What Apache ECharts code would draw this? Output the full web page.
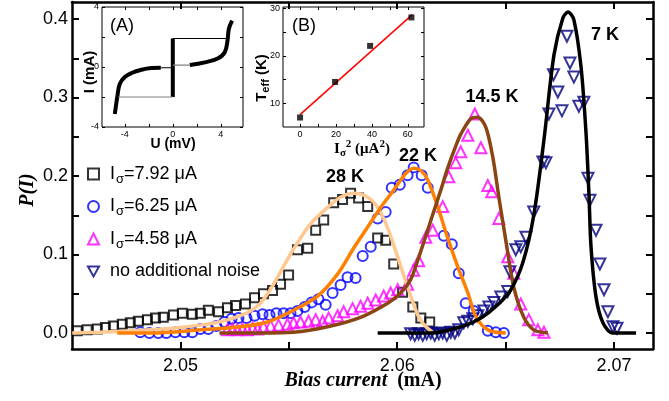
<!DOCTYPE html>
<html>
<head>
<meta charset="utf-8">
<script src="https://cdn.jsdelivr.net/npm/echarts@6/dist/echarts.min.js"></script>
<style>
  html, body { margin: 0; padding: 0; background: #fff; }
  #chart { width: 669px; height: 401px; }
</style>
</head>
<body>
<div id="chart"></div>
<script>
// ---- main panel: switching histograms P(I) ----
const sqX = [2.04524, 2.04570, 2.04617, 2.04654, 2.04691, 2.04732, 2.04769, 2.04806, 2.04848, 2.04885, 2.04921, 2.04968, 2.05009, 2.05055, 2.05092, 2.05129, 2.05176, 2.05217, 2.05254, 2.05300, 2.05342, 2.05383, 2.05425, 2.05462, 2.05499, 2.05540, 2.05587, 2.05624, 2.05661, 2.05707, 2.05748, 2.05785, 2.05822, 2.05864, 2.05910, 2.05947, 2.05984, 2.06025, 2.06072, 2.06109, 2.06150];
const sqY = [0.003, 0.004, 0.005, 0.007, 0.009, 0.011, 0.013, 0.015, 0.017, 0.019, 0.020, 0.023, 0.025, 0.024, 0.025, 0.029, 0.027, 0.032, 0.035, 0.037, 0.045, 0.050, 0.054, 0.062, 0.074, 0.106, 0.108, 0.131, 0.144, 0.166, 0.170, 0.178, 0.172, 0.161, 0.121, 0.118, 0.088, 0.052, 0.033, 0.019, 0.014];

const ciX = [2.04815, 2.04857, 2.04898, 2.04935, 2.04977, 2.05018, 2.05055, 2.05092, 2.05129, 2.05166, 2.05203, 2.05236, 2.05268, 2.05305, 2.05342, 2.05379, 2.05411, 2.05443, 2.05476, 2.05508, 2.05540, 2.05573, 2.05605, 2.05637, 2.05670, 2.05702, 2.05739, 2.05771, 2.05808, 2.05841, 2.05878, 2.05910, 2.05947, 2.05975, 2.06012, 2.06048, 2.06076, 2.06113, 2.06141, 2.06215, 2.06252, 2.06284, 2.06316, 2.06353, 2.06418, 2.06455, 2.06492];
const ciY = [0.001, 0.000, 0.000, 0.000, 0.001, 0.001, 0.001, 0.005, 0.005, 0.009, 0.014, 0.018, 0.019, 0.019, 0.022, 0.024, 0.023, 0.025, 0.025, 0.025, 0.028, 0.033, 0.039, 0.043, 0.036, 0.051, 0.061, 0.071, 0.070, 0.098, 0.110, 0.146, 0.154, 0.185, 0.189, 0.201, 0.211, 0.201, 0.185, 0.124, 0.113, 0.076, 0.038, 0.028, 0.003, 0.001, 0.000];

const trX = [2.05217, 2.05240, 2.05263, 2.05286, 2.05309, 2.05333, 2.05356, 2.05383, 2.05416, 2.05453, 2.05494, 2.05522, 2.05554, 2.05591, 2.05624, 2.05656, 2.05684, 2.05725, 2.05753, 2.05794, 2.05831, 2.05864, 2.05901, 2.05938, 2.05970, 2.06002, 2.06048, 2.06076, 2.06099, 2.06132, 2.06164, 2.06210, 2.06238, 2.06270, 2.06293, 2.06326, 2.06358, 2.06386, 2.06418, 2.06436, 2.06469, 2.06510, 2.06538, 2.06570, 2.06607, 2.06649, 2.06677];
const trY = [0.004, 0.005, 0.004, 0.005, 0.004, 0.006, 0.005, 0.008, 0.009, 0.010, 0.011, 0.013, 0.014, 0.015, 0.017, 0.015, 0.019, 0.022, 0.027, 0.031, 0.034, 0.038, 0.042, 0.047, 0.051, 0.055, 0.062, 0.080, 0.092, 0.122, 0.131, 0.161, 0.199, 0.217, 0.231, 0.252, 0.279, 0.236, 0.188, 0.180, 0.146, 0.097, 0.076, 0.037, 0.017, 0.004, 0.001];

const dtX = [2.06062, 2.06081, 2.06099, 2.06118, 2.06136, 2.06155, 2.06173, 2.06192, 2.06210, 2.06229, 2.06247, 2.06266, 2.06284, 2.06307, 2.06326, 2.06349, 2.06372, 2.06400, 2.06423, 2.06446, 2.06478, 2.06510, 2.06520, 2.06547, 2.06570, 2.06594, 2.06630, 2.06672, 2.06686, 2.06700, 2.06721, 2.06741, 2.06760, 2.06783, 2.06797, 2.06815, 2.06838, 2.06861, 2.06880, 2.06889, 2.06917, 2.06935, 2.06954, 2.06972, 2.06995, 2.07014];
const dtY = [-0.001, -0.003, -0.001, -0.003, -0.001, 0.000, -0.003, -0.001, 0.000, -0.003, 0.001, 0.000, 0.004, 0.013, 0.015, 0.018, 0.022, 0.028, 0.033, 0.039, 0.046, 0.053, 0.078, 0.106, 0.110, 0.122, 0.154, 0.218, 0.217, 0.279, 0.329, 0.307, 0.283, 0.378, 0.344, 0.326, 0.289, 0.294, 0.197, 0.169, 0.131, 0.088, 0.055, 0.027, 0.008, 0.006];

// fitted curves
const fit28X = [2.04501, 2.04630, 2.04783, 2.04963, 2.05092, 2.05194, 2.05277, 2.05323, 2.05370, 2.05416, 2.05462, 2.05522, 2.05600, 2.05679, 2.05739, 2.05799, 2.05864, 2.05910, 2.05956, 2.06002, 2.06048, 2.06095, 2.06132, 2.06164];
const fit28Y = [0.000, 0.001, 0.003, 0.006, 0.010, 0.015, 0.022, 0.028, 0.038, 0.056, 0.078, 0.107, 0.139, 0.160, 0.173, 0.178, 0.173, 0.160, 0.134, 0.097, 0.059, 0.023, 0.008, 0.001];
const fit22X = [2.04709, 2.04861, 2.05092, 2.05277, 2.05402, 2.05522, 2.05633, 2.05725, 2.05799, 2.05864, 2.05924, 2.05984, 2.06039, 2.06076, 2.06109, 2.06141, 2.06187, 2.06233, 2.06280, 2.06326, 2.06363, 2.06418, 2.06501];
const fit22Y = [0.000, 0.000, 0.004, 0.008, 0.014, 0.029, 0.047, 0.075, 0.108, 0.135, 0.160, 0.182, 0.203, 0.210, 0.207, 0.195, 0.161, 0.121, 0.084, 0.051, 0.021, 0.004, 0.000];
const fit14X = [2.05180, 2.05370, 2.05522, 2.05679, 2.05831, 2.05956, 2.06016, 2.06062, 2.06099, 2.06136, 2.06169, 2.06201, 2.06233, 2.06270, 2.06293, 2.06339, 2.06372, 2.06409, 2.06441, 2.06469, 2.06501, 2.06538, 2.06584, 2.06630, 2.06695];
const fit14Y = [0.000, 0.000, 0.001, 0.008, 0.020, 0.038, 0.051, 0.068, 0.096, 0.127, 0.155, 0.182, 0.210, 0.238, 0.253, 0.273, 0.275, 0.262, 0.224, 0.173, 0.118, 0.058, 0.020, 0.004, 0.000];
const fit7X = [2.05910, 2.06155, 2.06307, 2.06386, 2.06464, 2.06524, 2.06580, 2.06630, 2.06677, 2.06723, 2.06764, 2.06788, 2.06815, 2.06848, 2.06871, 2.06885, 2.06894, 2.06917, 2.06949, 2.06995, 2.07102];
const fit7Y = [0.000, 0.000, 0.009, 0.019, 0.036, 0.055, 0.090, 0.150, 0.246, 0.354, 0.401, 0.409, 0.399, 0.339, 0.255, 0.174, 0.110, 0.046, 0.013, 0.000, 0.000];

const legendNames = ['I_s=7.92 uA', 'I_s=6.25 uA', 'I_s=4.58 uA', 'no additional noise'];
const legendText = ['{n|I}{s|σ}{n|=7.92 μA}', '{n|I}{s|σ}{n|=6.25 μA}', '{n|I}{s|σ}{n|=4.58 μA}', '{n|no additional noise}'];

const xLabels = [2.05, 2.06, 2.07];
const xTicks = [2.05, 2.055, 2.06, 2.065, 2.07];
const yLabels = [0.0, 0.1, 0.2, 0.3, 0.4];
const yTicks = [0.0, 0.05, 0.1, 0.15, 0.2, 0.25, 0.3, 0.35, 0.4];

// ---- inset A: I-U curve ----
const ivNegU = [-4.83, -4.61, -4.42, -4.0, -3.44, -2.61, -1.78, -1.0];
const ivNegI = [-3.13, -1.91, -1.13, -0.67, -0.40, -0.18, -0.07, -0.05];
const ivPosU = [1.42, 2.67, 3.78, 4.33, 4.56, 4.67, 4.94];
const ivPosI = [0.13, 0.31, 0.58, 0.98, 1.76, 2.53, 3.09];
const superU = [0, 0];
const superI = [-2.0, 1.9];
const jumpUpU = [0, 4.56];
const jumpUpI = [1.9, 1.9];
const jumpDownU = [0, -4.55];
const jumpDownI = [-2.0, -2.0];
const linkNegU = [-1.0, 0];
const linkNegI = [-0.05, -0.05];
const linkPosU = [0, 1.42];
const linkPosI = [0.13, 0.13];
const aTicks = [-4, -2, 0, 2, 4];
const aLabels = [-4, 0, 4];

// ---- inset B: T_eff vs I_sigma^2 ----
const isq = [0, 19.5, 39, 62];
const teff = [7.0, 14.5, 22.1, 28.1];
const lineX = [0, 62.5];
const lineY = [7.6, 28.7];
const bxTicks = [0, 10, 20, 30, 40, 50, 60];
const bxLabels = [0, 20, 40, 60];
const byTicks = [10, 15, 20, 25, 30];
const byLabels = [10, 20, 30];

const zip = (xs, ys) => xs.map((x, i) => [x, ys[i]]);
const SANS = 'Liberation Sans';
const SERIF = 'Liberation Serif';
const DOWN_TRI = 'path://M0,0 L10,0 L5,9 Z';

function axisPair(dir, grid, min, max, ticks, labels, o) {
  const base = {
    type: 'value', gridIndex: grid, min: min, max: max, scale: true,
    splitLine: { show: false },
    axisLine: { show: !!o.line, onZero: false, lineStyle: { color: '#000', width: o.line || 1 } },
    axisTick: { show: true, inside: true, length: o.tick, customValues: ticks, lineStyle: { color: '#000', width: o.tickW } }
  };
  const first = Object.assign({}, base, {
    position: dir === 'x' ? 'bottom' : 'left',
    axisLabel: { show: true, customValues: labels, color: '#000', fontFamily: SANS, fontSize: o.font, margin: o.margin, formatter: o.fmt }
  });
  const second = Object.assign({}, base, {
    position: dir === 'x' ? 'top' : 'right',
    axisLabel: { show: false }
  });
  return [first, second];
}

const mainX = axisPair('x', 0, 2.045, 2.0718, xTicks, xLabels, { line: 2.5, tick: 7, tickW: 2, font: 18, margin: 8, fmt: v => v.toFixed(2) });
const mainY = axisPair('y', 0, -0.0204, 0.4217, yTicks, yLabels, { line: 2.5, tick: 7, tickW: 2, font: 18, margin: 4, fmt: v => v.toFixed(1) });
const insAX = axisPair('x', 1, -5.9, 5.85, aTicks, aLabels, { line: 0, tick: 3, tickW: 1, font: 9, margin: 3, fmt: v => String(v) });
const insAY = axisPair('y', 1, -4, 4, aTicks, aLabels, { line: 0, tick: 3, tickW: 1, font: 9, margin: 3, fmt: v => String(v) });
const insBX = axisPair('x', 2, -9.5, 69, bxTicks, bxLabels, { line: 0, tick: 3, tickW: 1, font: 9, margin: 3, fmt: v => String(v) });
const insBY = axisPair('y', 2, 5, 30.3, byTicks, byLabels, { line: 0, tick: 3, tickW: 1, font: 9, margin: 3, fmt: v => String(v) });

function scatter(name, xs, ys, symbol, size, color) {
  return {
    type: 'scatter', name: name, xAxisIndex: 0, yAxisIndex: 0, z: 2,
    data: zip(xs, ys), symbol: symbol, symbolSize: size,
    itemStyle: { color: 'rgba(255,255,255,0)', borderColor: color, borderWidth: 2 }
  };
}
function curve(xs, ys, color, width, xi, yi, smooth) {
  return {
    type: 'line', xAxisIndex: xi, yAxisIndex: yi, z: xi === 0 ? 3 : 10, data: zip(xs, ys),
    showSymbol: false, smooth: smooth, silent: true,
    lineStyle: { color: color, width: width }
  };
}

const chart = echarts.init(document.getElementById('chart'), null, { renderer: 'canvas' });
chart.setOption({
  animation: false,
  backgroundColor: '#fff',
  grid: [
    { left: 72, right: 16, top: 2, bottom: 52 },
    { left: 102, top: 7, width: 141, height: 120, show: true, backgroundColor: '#fff', borderColor: '#000', borderWidth: 1 },
    { left: 283, top: 7, width: 141, height: 120, show: true, backgroundColor: '#fff', borderColor: '#000', borderWidth: 1 }
  ],
  xAxis: [].concat(mainX, insAX, insBX),
  yAxis: [].concat(mainY, insAY, insBY),
  legend: {
    data: legendNames, orient: 'vertical', left: 82, top: 160,
    itemWidth: 11, itemHeight: 11, itemGap: 12, selectedMode: false,
    itemStyle: { borderWidth: 2 },
    formatter: name => legendText[legendNames.indexOf(name)],
    textStyle: {
      padding: [0, 0, 0, 6],
      rich: {
        n: { fontFamily: SANS, fontSize: 18, color: '#000' },
        s: { fontFamily: SANS, fontSize: 13, color: '#000', padding: [10, 0, 0, 1] }
      }
    }
  },
  series: [
    scatter(legendNames[0], sqX, sqY, 'rect', 9, '#000000'),
    scatter(legendNames[1], ciX, ciY, 'circle', 10, '#0000ff'),
    scatter(legendNames[2], trX, trY, 'triangle', 11, '#ff00ff'),
    scatter(legendNames[3], dtX, dtY, DOWN_TRI, 11, '#000080'),
    curve(fit28X, fit28Y, '#ffc890', 3.5, 0, 0, 0.3),
    curve(fit22X, fit22Y, '#ff8000', 3.5, 0, 0, 0.3),
    curve(fit14X, fit14Y, '#8b4513', 3.5, 0, 0, 0.3),
    curve(fit7X, fit7Y, '#000000', 3.5, 0, 0, 0.3),
    // inset A
    curve(ivNegU, ivNegI, '#000', 4, 2, 2, 0.4),
    curve(ivPosU, ivPosI, '#000', 4, 2, 2, 0.4),
    curve(superU, superI, '#000', 4, 2, 2, false),
    curve(jumpUpU, jumpUpI, '#000', 1, 2, 2, false),
    curve(linkNegU, linkNegI, '#000', 1, 2, 2, false),
    curve(jumpDownU, jumpDownI, '#808080', 1.2, 2, 2, false),
    curve(linkPosU, linkPosI, '#808080', 1.2, 2, 2, false),
    // inset B
    curve(lineX, lineY, '#ff0000', 1.5, 4, 4, false),
    {
      type: 'scatter', xAxisIndex: 4, yAxisIndex: 4, z: 11, silent: true,
      data: zip(isq, teff), symbol: 'rect', symbolSize: 6, itemStyle: { color: '#000' }
    }
  ],
  graphic: [
    { type: 'text', x: 28, y: 190, rotation: Math.PI / 2, z: 10,
      style: { text: 'P(I)', font: 'italic bold 20px "Liberation Serif"', fill: '#000', textAlign: 'center', textVerticalAlign: 'middle' } },
    { type: 'text', x: 363, y: 381, z: 10,
      style: { text: '{a|Bias current}{b|  (mA)}', textAlign: 'center', textVerticalAlign: 'middle',
        rich: { a: { fontFamily: SERIF, fontStyle: 'italic', fontWeight: 'bold', fontSize: 20, fill: '#000' },
                b: { fontFamily: SERIF, fontWeight: 'bold', fontSize: 20, fill: '#000' } } } },
    { type: 'text', x: 345, y: 177, z: 10, style: { text: '28 K', font: 'bold 18px "Liberation Sans"', fill: '#000', textAlign: 'center', textVerticalAlign: 'middle' } },
    { type: 'text', x: 418, y: 156, z: 10, style: { text: '22 K', font: 'bold 18px "Liberation Sans"', fill: '#000', textAlign: 'center', textVerticalAlign: 'middle' } },
    { type: 'text', x: 492, y: 97, z: 10, style: { text: '14.5 K', font: 'bold 18px "Liberation Sans"', fill: '#000', textAlign: 'center', textVerticalAlign: 'middle' } },
    { type: 'text', x: 605, y: 35, z: 10, style: { text: '7 K', font: 'bold 18px "Liberation Sans"', fill: '#000', textAlign: 'center', textVerticalAlign: 'middle' } },
    // inset A labels
    { type: 'text', x: 122, y: 26, z: 10, style: { text: '(A)', font: '18px "Liberation Sans"', fill: '#000', textAlign: 'center', textVerticalAlign: 'middle' } },
    { type: 'text', x: 90, y: 72, rotation: Math.PI / 2, z: 10, style: { text: 'I (mA)', font: 'bold 15px "Liberation Sans"', fill: '#000', textAlign: 'center', textVerticalAlign: 'middle' } },
    { type: 'text', x: 173, y: 144, z: 10, style: { text: 'U (mV)', font: 'bold 14px "Liberation Sans"', fill: '#000', textAlign: 'center', textVerticalAlign: 'middle' } },
    // inset B labels
    { type: 'text', x: 304, y: 26, z: 10, style: { text: '(B)', font: '18px "Liberation Sans"', fill: '#000', textAlign: 'center', textVerticalAlign: 'middle' } },
    { type: 'text', x: 262, y: 78, rotation: Math.PI / 2, z: 10,
      style: { text: '{t|T}{e|eff}{t| (K)}', textAlign: 'center', textVerticalAlign: 'middle',
        rich: { t: { fontFamily: SANS, fontWeight: 'bold', fontSize: 15, fill: '#000' },
                e: { fontFamily: SANS, fontWeight: 'bold', fontSize: 11, fill: '#000', padding: [8, 0, 0, 0] } } } },
    { type: 'text', x: 362, y: 149, z: 10,
      style: { text: '{n|I}{s|σ}{p|2}{n| (μA}{p|2}{n|)}', textAlign: 'center', textVerticalAlign: 'middle',
        rich: { n: { fontFamily: SERIF, fontWeight: 'bold', fontSize: 15, fill: '#000' },
                s: { fontFamily: SERIF, fontWeight: 'bold', fontSize: 11, fill: '#000', padding: [9, 0, 0, 0] },
                p: { fontFamily: SERIF, fontWeight: 'bold', fontSize: 11, fill: '#000', padding: [0, 0, 9, 0] } } } }
  ]
});
</script>
</body>
</html>
